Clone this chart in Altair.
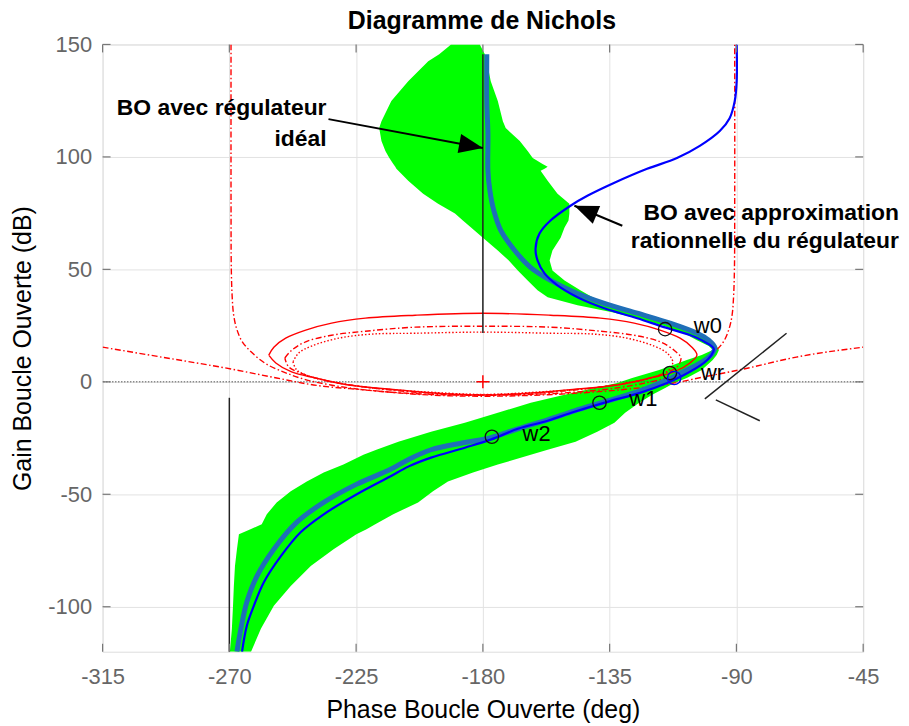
import altair as alt
import pandas as pd

FONT = "Liberation Sans"

# ---------------- axes ----------------
X_TICKS = [-315, -270, -225, -180, -135, -90, -45]
Y_TICKS = [-100, -50, 0, 50, 100, 150]
TITLE = "Diagramme de Nichols"

# ---------------- green uncertainty template (gain, left phase, right phase) ----------------
BAND_GAIN = [150.0, 145.6, 142.5, 133.6, 124.8, 115.9, 112.8, 107.1, 102.6, 99.5, 96.9, 95.6, 94.7, 93.8,
             89.4, 83.6, 79.2, 74.8, 71.7, 68.6, 64.1, 58.4, 53.9, 49.5, 45.1, 40.7, 37.6, 34.0, 30.9, 28.3,
             25.2, 21.6, 18.5, 15.9, 14.1, 11.9, 9.7, 5.3, 1.7, -0.5, -2.7, -5.8, -9.3, -13.8, -18.2, -22.2,
             -26.6, -30.2, -32.4, -36.8, -40.3, -44.3, -48.7, -53.6, -58.9, -63.3, -65.6, -67.8, -74.4, -81.9,
             -90.8, -99.6, -109.8, -120.0]
BAND_LEFT = [-191.3, -195.5, -199.4, -206.5, -212.5, -216.0, -216.8, -216.0, -214.6, -213.2, -211.8, -211.1,
             -210.7, -210.0, -206.5, -201.2, -195.9, -189.9, -187.1, -184.2, -180.0, -174.7, -170.8, -167.6,
             -164.1, -160.6, -157.0, -146.4, -134.1, -125.2, -116.4, -108.6, -104.0, -99.8, -98.4, -102.3,
             -107.6, -117.4, -127.0, -132.3, -140.4, -151.0, -163.0, -174.7, -186.4, -198.4, -210.0, -217.8,
             -222.4, -229.5, -236.5, -242.5, -248.2, -253.2, -256.7, -258.5, -262.5, -266.6, -267.3, -268.0,
             -268.4, -268.7, -269.1, -269.8]
BAND_RIGHT = [-181.1, -179.3, -178.6, -177.2, -174.7, -172.9, -171.9, -166.9, -164.1, -162.3, -158.8, -157.0,
              -158.1, -159.5, -157.0, -153.5, -149.3, -149.3, -149.6, -151.0, -152.4, -155.3, -156.3, -155.3,
              -151.0, -145.4, -141.1, -135.1, -127.0, -119.9, -112.8, -104.7, -99.8, -97.0, -96.2, -97.0,
              -98.4, -102.3, -107.6, -112.1, -115.3, -119.9, -124.5, -129.5, -133.3, -139.4, -147.1, -157.0,
              -163.0, -174.7, -183.5, -192.4, -197.7, -203.0, -211.8, -218.2, -221.3, -224.9, -233.0, -241.1,
              -248.2, -254.2, -258.8, -262.3]

# ---------------- BO with ideal regulator (thick steel-blue) ----------------
IDEAL_PHASE = [-178.6, -178.6, -178.2, -178.2, -177.5, -176.1, -173.6, -168.7, -163.0, -156.0, -146.4, -136.9,
               -125.2, -113.6, -104.0, -99.8, -97.7, -98.7, -102.3, -107.6, -114.6, -124.2, -135.8, -147.5,
               -157.0, -167.6, -177.2, -186.4, -198.4, -206.5, -212.9, -224.9, -236.5, -246.1, -254.2, -260.2,
               -263.8, -265.9, -267.3]
IDEAL_GAIN = [145.6, 124.8, 110.2, 93.8, 84.9, 76.1, 67.2, 58.4, 50.8, 45.1, 39.3, 34.9, 30.5, 26.1, 21.6,
              18.5, 15.4, 12.3, 8.8, 5.3, 0.8, -4.0, -8.5, -12.9, -16.9, -20.9, -24.8, -27.0, -30.2, -34.6,
              -39.0, -45.6, -53.6, -62.5, -74.4, -86.4, -97.9, -109.8, -120.0]

# ---------------- BO with rational approximation (thin blue) ----------------
APPROX_PHASE = [-89.9, -89.9, -90.6, -92.4, -95.9, -103.0, -111.1, -121.7, -133.3, -142.9, -148.9, -156.0,
                -159.9, -161.3, -160.6, -158.1, -153.5, -146.4, -136.9, -125.2, -115.7, -106.5, -101.2, -98.0,
                -99.1, -101.5, -108.6, -114.6, -124.2, -135.8, -147.5, -157.0, -167.6, -177.2, -186.4, -198.4,
                -206.5, -212.9, -224.9, -236.5, -244.7, -251.7, -257.7, -261.3, -263.8, -265.5]
APPROX_GAIN = [150.0, 133.6, 124.8, 117.2, 111.5, 104.9, 99.5, 94.7, 88.5, 82.7, 78.3, 71.7, 65.9, 59.3, 54.0,
               48.2, 42.9, 37.6, 32.7, 28.3, 24.3, 20.8, 17.7, 14.6, 11.5, 8.4, 3.0, -0.5, -4.9, -8.9, -13.3,
               -17.3, -20.9, -25.7, -29.3, -33.7, -37.7, -42.1, -50.1, -58.9, -66.9, -77.5, -89.0, -99.6,
               -108.5, -120.0]

# ---------------- Nichols grid contours (red) ----------------
M_SOLID_PHASE = [-256.0, -254.2, -250.0, -242.9, -233.7, -221.7, -204.0, -180.0, -156.0, -138.3, -126.3, -117.1,
                 -110.0, -105.8, -104.0, -106.5, -112.1, -120.6, -132.3, -150.0, -165.0, -180.0, -195.0, -210.0,
                 -227.7, -239.4, -247.9, -253.5, -256.0]
M_SOLID_GAIN = [11.9, 15.4, 19.4, 23.0, 26.1, 28.3, 29.6, 30.5, 29.6, 28.3, 26.1, 23.0, 19.4, 15.4, 11.9, 8.4,
                4.4, 1.7, -1.4, -3.6, -5.2, -5.9, -5.2, -3.6, -1.4, 1.7, 4.4, 8.4, 11.9]

M_DASHDOT_PHASE = [-250.3, -247.9, -242.9, -233.7, -221.7, -204.0, -180.0, -156.0, -138.3, -126.3, -117.1, -112.1,
                   -109.7, -111.1, -117.1, -126.3, -138.3, -155.0, -180.0, -205.0, -221.7, -233.7, -242.9, -248.9,
                   -250.3]
M_DASHDOT_GAIN = [10.6, 14.0, 17.8, 20.7, 22.5, 24.3, 24.7, 24.3, 22.5, 20.7, 17.8, 14.0, 10.6, 6.6, 3.1, 0.0,
                  -2.3, -4.5, -5.7, -4.5, -2.3, 0.0, 3.1, 6.6, 10.6]

M_DOT_PHASE = [-247.4, -245.4, -240.8, -231.2, -219.6, -204.0, -180.0, -156.0, -140.4, -128.8, -119.2, -114.6,
               -112.6, -113.9, -119.2, -128.8, -140.4, -160.0, -180.0, -200.0, -219.6, -231.2, -240.8, -246.1,
               -247.4]
M_DOT_GAIN = [8.9, 12.8, 15.9, 19.4, 21.2, 21.6, 22.1, 21.6, 21.2, 19.4, 15.9, 12.8, 8.9, 5.3, 2.2, -0.5, -2.7,
              -4.5, -5.6, -4.5, -2.7, -0.5, 2.2, 5.3, 8.9]

M0_PHASE = [-269.4, -269.4, -269.3, -269.0, -268.5, -267.5, -265.5, -262.0, -257.0, -250.0, -243.0, -234.0,
            -222.0, -205.0, -192.0, -180.0, -168.0, -155.0, -138.0, -126.0, -117.0, -110.0, -103.0, -98.0,
            -94.5, -92.5, -91.5, -91.0, -90.7, -90.6, -90.6]
M0_GAIN = [150.0, 80.0, 50.0, 38.0, 30.0, 24.0, 18.0, 13.0, 8.0, 4.0, 1.0, -1.4, -3.6, -5.2, -5.8, -6.0, -5.8,
           -5.2, -3.6, -1.4, 1.0, 4.0, 8.0, 13.0, 18.0, 24.0, 30.0, 38.0, 50.0, 80.0, 150.0]

MOPEN_PHASE = [-315.0, -294.1, -269.4, -253.2, -240.1, -221.7, -205.0, -192.0, -180.0, -165.0, -150.0, -130.0,
               -113.6, -101.5, -87.4, -68.7, -45.0]
MOPEN_GAIN = [15.4, 11.0, 5.7, 1.7, -1.4, -3.6, -5.4, -6.2, -6.4, -6.1, -5.3, -3.4, -0.9, 2.2, 5.7, 11.0, 15.4]

# ---------------- black segments ----------------
SEG_X1 = [-180.0, -270.0, -101.2, -97.3]
SEG_Y1 = [21.7, -120.0, -7.6, -8.0]
SEG_X2 = [-180.0, -270.0, -72.2, -81.7]
SEG_Y2 = [145.6, -7.1, 21.6, -17.3]

# ---------------- frequency markers ----------------
MARK_PHASE = [-115.3, -113.6, -138.6, -176.8]
MARK_GAIN = [23.4, 3.9, -9.3, -24.4]
MARK_BLUE_PHASE = [-112.1]
MARK_BLUE_GAIN = [1.7]
LABEL_TEXT = ["w0", "wr", "w1", "w2"]
LABEL_PHASE = [-105.1, -102.6, -128.0, -165.9]
LABEL_GAIN = [21.6, 1.0, -10.9, -26.5]

# ---------------- annotations ----------------
ARROW_TAIL_X = [-234.8, -130.5]
ARROW_TAIL_Y = [116.8, 69.4]
ARROW_TIP_X = [-180.0, -147.5]
ARROW_TIP_Y = [104.0, 78.3]
ANNOT_TEXT = ["BO avec régulateur", "idéal", "BO avec approximation", "rationnelle du régulateur"]
ANNOT_X = [-235.5, -235.5, -32.3, -32.3]
ANNOT_Y = [118.6, 104.9, 71.9, 59.7]

# ======================================================================
XS = alt.Scale(domain=[-315, -45], nice=False, zero=False)
YS = alt.Scale(domain=[-120, 150], nice=False, zero=False)

x_axis = alt.Axis(values=X_TICKS, title="Phase Boucle Ouverte (deg)", grid=True, gridColor="#e2e2e2",
                  gridWidth=1, ticks=False, domain=False, labelFontSize=22, labelColor="#666666",
                  labelPadding=15, labelFlush=False, labelOverlap=False, labelFont=FONT,
                  titleFont=FONT, titleFontSize=25, titleFontWeight="normal", titleColor="#000000",
                  titleY=66, titleBaseline="alphabetic", labelExpr="'' + datum.value")
y_axis = alt.Axis(values=Y_TICKS, title="Gain Boucle Ouverte (dB)", grid=True, gridColor="#e2e2e2",
                  gridWidth=1, ticks=False, domain=False, labelFontSize=22, labelColor="#666666",
                  labelPadding=11, labelOverlap=False, labelFont=FONT, labelFlush=False,
                  titleFont=FONT, titleFontSize=25, titleFontWeight="normal", titleColor="#000000",
                  titleX=-72, titleBaseline="alphabetic", titleAngle=270, labelExpr="'' + datum.value")


def X(field):
    return alt.X(field, type="quantitative", scale=XS, axis=x_axis)


def Y(field):
    return alt.Y(field, type="quantitative", scale=YS, axis=y_axis)


def curve_df(px, gy):
    return pd.DataFrame({"phase": px, "gain": gy, "i": list(range(len(px)))})


band_df = pd.DataFrame({"gain": BAND_GAIN, "left": BAND_LEFT, "right": BAND_RIGHT})
band = alt.Chart(band_df).mark_area(orient="horizontal", color="#00ff00", opacity=1, clip=True).encode(
    y=Y("gain"), x=X("left"), x2="right")

zero = alt.Chart(pd.DataFrame({"gain": [0]})).mark_rule(
    color="#555555", strokeDash=[1.5, 1.5], strokeWidth=1).encode(y=Y("gain"))


def red_line(px, gy, dash=None, interp="catmull-rom"):
    kw = dict(color="#ff0000", strokeWidth=1.4, interpolate=interp, clip=True)
    if dash is not None:
        kw["strokeDash"] = dash
    return alt.Chart(curve_df(px, gy)).mark_line(**kw).encode(
        x=X("phase"), y=Y("gain"), order="i:Q")


DASHDOT = [6, 2.5, 1.5, 2.5]
red_solid = red_line(M_SOLID_PHASE, M_SOLID_GAIN)
red_dd = red_line(M_DASHDOT_PHASE, M_DASHDOT_GAIN, DASHDOT)
red_dot = red_line(M_DOT_PHASE, M_DOT_GAIN, [1.5, 2])
red_m0 = red_line(M0_PHASE, M0_GAIN, DASHDOT)
red_open = red_line(MOPEN_PHASE, MOPEN_GAIN, DASHDOT, interp="monotone")

plus = alt.Chart(pd.DataFrame({"phase": [-180], "gain": [0]})).mark_point(
    shape="M-1,0L1,0M0,-1L0,1", size=169, filled=False, color="#ff0000", strokeWidth=1.5,
    opacity=1).encode(x=X("phase"), y=Y("gain"))

seg_df = pd.DataFrame({"x1": SEG_X1, "y1": SEG_Y1, "x2": SEG_X2, "y2": SEG_Y2})
segs = alt.Chart(seg_df).mark_rule(color="#222222", strokeWidth=1.5).encode(
    x=X("x1"), y=Y("y1"), x2="x2", y2="y2")

ideal = alt.Chart(curve_df(IDEAL_PHASE, IDEAL_GAIN)).mark_line(
    color="#1f6fb8", strokeWidth=5, interpolate="catmull-rom", clip=True).encode(
    x=X("phase"), y=Y("gain"), order="i:Q")

approx = alt.Chart(curve_df(APPROX_PHASE, APPROX_GAIN)).mark_line(
    color="#0000ff", strokeWidth=2.2, interpolate="catmull-rom", clip=True).encode(
    x=X("phase"), y=Y("gain"), order="i:Q")

circles = alt.Chart(pd.DataFrame({"phase": MARK_PHASE, "gain": MARK_GAIN})).mark_point(
    shape="circle", size=180, filled=False, color="#111111", strokeWidth=1.3, opacity=1).encode(
    x=X("phase"), y=Y("gain"))
circle_blue = alt.Chart(pd.DataFrame({"phase": MARK_BLUE_PHASE, "gain": MARK_BLUE_GAIN})).mark_point(
    shape="circle", size=180, filled=False, color="#0000ff", strokeWidth=1.3, opacity=1).encode(
    x=X("phase"), y=Y("gain"))

labels = alt.Chart(pd.DataFrame({"phase": LABEL_PHASE, "gain": LABEL_GAIN, "t": LABEL_TEXT})).mark_text(
    font=FONT, fontSize=22, color="#000000", align="left", baseline="alphabetic").encode(
    x=X("phase"), y=Y("gain"), text="t:N")

arrow_df = pd.DataFrame({"x1": ARROW_TAIL_X, "y1": ARROW_TAIL_Y, "x2": ARROW_TIP_X, "y2": ARROW_TIP_Y})
arrow_lines = alt.Chart(arrow_df).mark_rule(color="#000000", strokeWidth=2).encode(
    x=X("x1"), y=Y("y1"), x2="x2", y2="y2")
HEAD = "M0,0L-2,-0.8L-2,0.8Z"
head1 = alt.Chart(pd.DataFrame({"phase": ARROW_TIP_X[:1], "gain": ARROW_TIP_Y[:1]})).mark_point(
    shape=HEAD, size=576, filled=True, color="#000000", opacity=1, angle=10.6).encode(
    x=X("phase"), y=Y("gain"))
head2 = alt.Chart(pd.DataFrame({"phase": ARROW_TIP_X[1:], "gain": ARROW_TIP_Y[1:]})).mark_point(
    shape=HEAD, size=576, filled=True, color="#000000", opacity=1, angle=202.6).encode(
    x=X("phase"), y=Y("gain"))

annots = alt.Chart(pd.DataFrame({"phase": ANNOT_X, "gain": ANNOT_Y, "t": ANNOT_TEXT})).mark_text(
    font=FONT, fontSize=23, fontWeight="bold", color="#000000", align="right",
    baseline="alphabetic").encode(x=X("phase"), y=Y("gain"), text="t:N")

title = alt.Chart(pd.DataFrame({"t": [TITLE]})).mark_text(
    font=FONT, fontSize=25, fontWeight="bold", color="#000000", align="center",
    baseline="alphabetic").encode(text="t:N", x=alt.value(381), y=alt.value(-16))

# inner (MATLAB style) ticks
xt = pd.DataFrame({"phase": X_TICKS})
yt = pd.DataFrame({"gain": Y_TICKS})
TICK_C = "#777777"
tick_b = alt.Chart(xt).mark_rule(color=TICK_C, strokeWidth=1.2).encode(
    x=X("phase"), y=alt.value(610), y2=alt.value(602))
tick_t = alt.Chart(xt).mark_rule(color=TICK_C, strokeWidth=1.2).encode(
    x=X("phase"), y=alt.value(0), y2=alt.value(8))
tick_l = alt.Chart(yt).mark_rule(color=TICK_C, strokeWidth=1.2).encode(
    y=Y("gain"), x=alt.value(0), x2=alt.value(8))
tick_r = alt.Chart(yt).mark_rule(color=TICK_C, strokeWidth=1.2).encode(
    y=Y("gain"), x=alt.value(764), x2=alt.value(756))

chart = alt.layer(
    band, zero, red_m0, red_open, red_solid, red_dd, red_dot, plus, segs, ideal, approx,
    circles, circle_blue, labels, arrow_lines, head1, head2, annots, title,
    tick_b, tick_t, tick_l, tick_r
).properties(
    width=764, height=610,
    padding={"left": 95, "top": 35, "right": 38, "bottom": 73},
    autosize=alt.AutoSizeParams(type="none"),
).configure_view(stroke="#7a7a7a", strokeWidth=1.5).configure(background="white")

chart.save("out.html", embed_options={"renderer": "svg", "actions": False})
